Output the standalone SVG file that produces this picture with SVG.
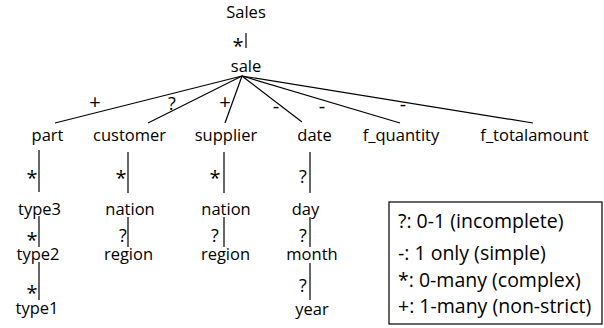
<svg xmlns="http://www.w3.org/2000/svg" width="604" height="328" viewBox="0 0 604 328">
<style>
text{font-family:"Open Sans","Noto Sans",sans-serif;fill:#000}
.n{font-size:16.5px;text-anchor:middle}
.s{font-size:20px;text-anchor:middle}
.q{font-size:18px;text-anchor:middle}
.lg{font-size:19.5px}
.e{stroke:#000;stroke-width:1.2;fill:none}
</style>
<rect width="604" height="328" fill="#fff"/>
<g id="connectors">
<line class="e" x1="246" y1="33" x2="246" y2="48"/>
<line class="e" x1="242" y1="76" x2="55" y2="123"/>
<line class="e" x1="242" y1="76" x2="148" y2="123"/>
<line class="e" x1="242" y1="76" x2="225" y2="123"/>
<line class="e" x1="242" y1="76" x2="302" y2="122"/>
<line class="e" x1="242" y1="76" x2="400" y2="123"/>
<line class="e" x1="242" y1="76" x2="533" y2="123"/>
<line class="e" x1="39" y1="150" x2="39" y2="192"/>
<line class="e" x1="39" y1="216" x2="39" y2="247"/>
<line class="e" x1="39" y1="262" x2="39" y2="300"/>
<line class="e" x1="128" y1="152" x2="128" y2="193"/>
<line class="e" x1="128" y1="217" x2="128" y2="247"/>
<line class="e" x1="224" y1="152" x2="224" y2="193"/>
<line class="e" x1="224" y1="217" x2="224" y2="247"/>
<line class="e" x1="310" y1="152" x2="310" y2="193"/>
<line class="e" x1="310" y1="217" x2="310" y2="247"/>
<line class="e" x1="310" y1="263" x2="310" y2="300"/>
<text class="s" x="238" y="52.5">*</text>
<text class="s" x="95" y="109">+</text>
<text class="q" x="172" y="110">?</text>
<text class="s" x="225" y="109">+</text>
<text class="s" x="276" y="112.5">-</text>
<text class="s" x="322" y="112.5">-</text>
<text class="s" x="403" y="110.5">-</text>
<text class="s" x="32" y="184.5">*</text>
<text class="s" x="32" y="246.5">*</text>
<text class="s" x="32" y="299.5">*</text>
<text class="s" x="121" y="184.5">*</text>
<text class="q" x="123" y="242">?</text>
<text class="s" x="215" y="184.5">*</text>
<text class="q" x="215" y="242">?</text>
<text class="q" x="303" y="183">?</text>
<text class="q" x="303" y="242">?</text>
<text class="q" x="303" y="292">?</text>
</g>
<g id="Sales"><text class="n" x="246" y="18">Sales</text></g>
<g id="sale"><text class="n" x="246" y="72">sale</text></g>
<g id="part"><text class="n" x="47.5" y="141">part</text></g>
<g id="customer"><text class="n" x="129.5" y="141">customer</text></g>
<g id="supplier"><text class="n" x="226" y="141">supplier</text></g>
<g id="date"><text class="n" x="314.5" y="141">date</text></g>
<g id="f_quantity"><text class="n" x="401" y="141">f_quantity</text></g>
<g id="f_totalamount"><text class="n" x="534.5" y="141">f_totalamount</text></g>
<g id="type3"><text class="n" x="39.5" y="215">type3</text></g>
<g id="type2"><text class="n" x="38" y="260">type2</text></g>
<g id="type1"><text class="n" x="37" y="314">type1</text></g>
<g id="nation1"><text class="n" x="130" y="215">nation</text></g>
<g id="region1"><text class="n" x="128.5" y="260">region</text></g>
<g id="nation2"><text class="n" x="226" y="215">nation</text></g>
<g id="region2"><text class="n" x="225.5" y="260">region</text></g>
<g id="day"><text class="n" x="305.5" y="215">day</text></g>
<g id="month"><text class="n" x="312" y="260">month</text></g>
<g id="year"><text class="n" x="312" y="315">year</text></g>
<g id="legend">
<rect x="389" y="202" width="213" height="122" fill="none" stroke="#000" stroke-width="1.2"/>
<text class="lg" x="398" y="228">?: 0-1 (incomplete)</text>
<text class="lg" x="398" y="260">-: 1 only (simple)</text>
<text class="lg" x="398" y="287">*: 0-many (complex)</text>
<text class="lg" x="398" y="313">+: 1-many (non-strict)</text>
</g>
</svg>
